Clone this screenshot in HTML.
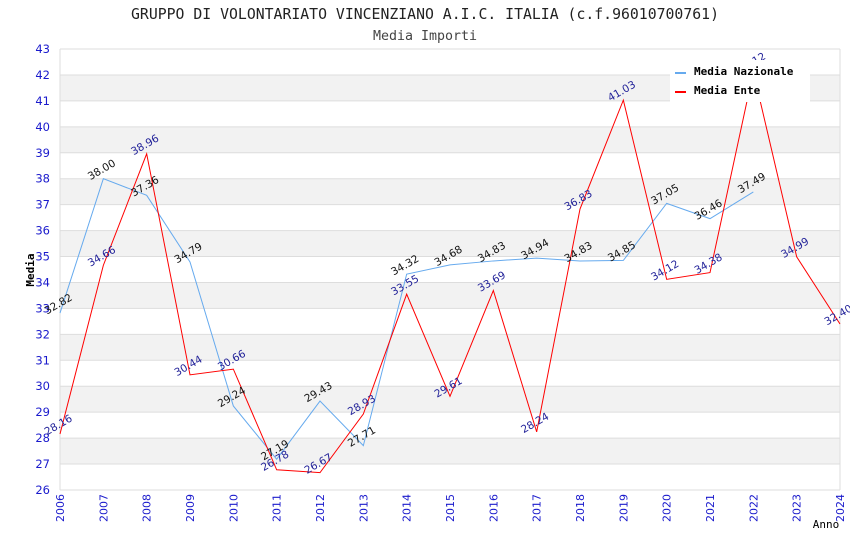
<!DOCTYPE html>
<html><head><meta charset="utf-8"><style>
body{margin:0;background:#fff}
svg{display:block;font-family:"DejaVu Sans","Liberation Sans",sans-serif}
.mono{font-family:"DejaVu Sans Mono","Liberation Mono",monospace}
</style></head><body>
<svg id="chart" width="850" height="550" viewBox="0 0 850 550">
<text class="mono" x="425" y="19" text-anchor="middle" font-size="14.8" fill="#222">GRUPPO DI VOLONTARIATO VINCENZIANO A.I.C. ITALIA (c.f.96010700761)</text>
<text class="mono" x="425" y="40" text-anchor="middle" font-size="13.3" fill="#444">Media Importi</text>
<g id="grid"></g>
<g id="series"></g>
<g id="labels"></g>
<text class="mono" transform="translate(34,270) rotate(-90)" text-anchor="middle" font-size="11" font-weight="bold" fill="#000">Media</text>
<text class="mono" x="826" y="528" text-anchor="middle" font-size="11" fill="#000">Anno</text>
<g>
<rect x="670" y="60" width="140" height="42" fill="#fff"/>
<line x1="675" y1="73" x2="686" y2="73" stroke="#66aaee" stroke-width="2"/>
<text class="mono" x="694" y="75" font-size="11" font-weight="bold">Media Nazionale</text>
<line x1="675" y1="92" x2="686" y2="92" stroke="#ff0000" stroke-width="2"/>
<text class="mono" x="694" y="94" font-size="11" font-weight="bold">Media Ente</text>
</g>
</svg>
<script>
const years=[2006,2007,2008,2009,2010,2011,2012,2013,2014,2015,2016,2017,2018,2019,2020,2021,2022,2023,2024];
const nazionale=[32.82,38.00,37.36,34.79,29.24,27.19,29.43,27.71,34.32,34.68,34.83,34.94,34.83,34.85,37.05,36.46,37.49];
const ente=[28.16,34.66,38.96,30.44,30.66,26.78,26.67,28.93,33.55,29.61,33.69,28.24,36.83,41.03,34.12,34.38,42.12,34.99,32.40];
const yTicks=[26,27,28,29,30,31,32,33,34,35,36,37,38,39,40,41,42,43];
const L=60,R=840,T=49,B=490,ymin=26,ymax=43;
const sx=i=>L+(R-L)*i/(years.length-1);
const sy=v=>B-(v-ymin)/(ymax-ymin)*(B-T);
const NS="http://www.w3.org/2000/svg";
function mk(tag,attrs,parent){const e=document.createElementNS(NS,tag);for(const k in attrs)e.setAttribute(k,attrs[k]);parent.appendChild(e);return e;}
const grid=document.getElementById('grid'),ser=document.getElementById('series'),lab=document.getElementById('labels');
for(let v=27;v<43;v+=2){const r=mk('rect',{x:L,y:sy(v+1),width:R-L,height:sy(v)-sy(v+1),fill:'#f2f2f2'},grid);

}
yTicks.forEach(v=>{const l=mk('line',{x1:L,x2:R,y1:sy(v),y2:sy(v),stroke:'#dddddd'},grid);


const t=mk('text',{x:L-10,y:sy(v)+4,'text-anchor':'end','font-size':'11.5',fill:'#1a1acc'},grid);t.textContent=v;

});
mk('line',{x1:L,x2:L,y1:T,y2:B,stroke:'#dddddd'},grid);mk('line',{x1:R,x2:R,y1:T,y2:B,stroke:'#dddddd'},grid);
years.forEach((y,i)=>{const t=mk('text',{transform:`translate(${sx(i)+4},${B+4}) rotate(-90)`,'text-anchor':'end','font-size':'11',fill:'#1a1acc'},grid);t.textContent=y;

});
function draw(arr,color,lc,name){
const p=mk('polyline',{points:arr.map((v,i)=>sx(i)+','+sy(v)).join(' '),fill:'none',stroke:color,'stroke-width':'1'},ser);


arr.forEach((v,i)=>{const t=mk('text',{transform:`translate(${sx(i)},${sy(v)-6}) rotate(-30)`,'text-anchor':'middle','font-size':'10.5',fill:lc},lab);t.textContent=v.toFixed(2);

});}
draw(nazionale,'#66aaee','#111','media-nazionale');
draw(ente,'#ff0000','#222299','media-ente');
</script>
</body></html>
